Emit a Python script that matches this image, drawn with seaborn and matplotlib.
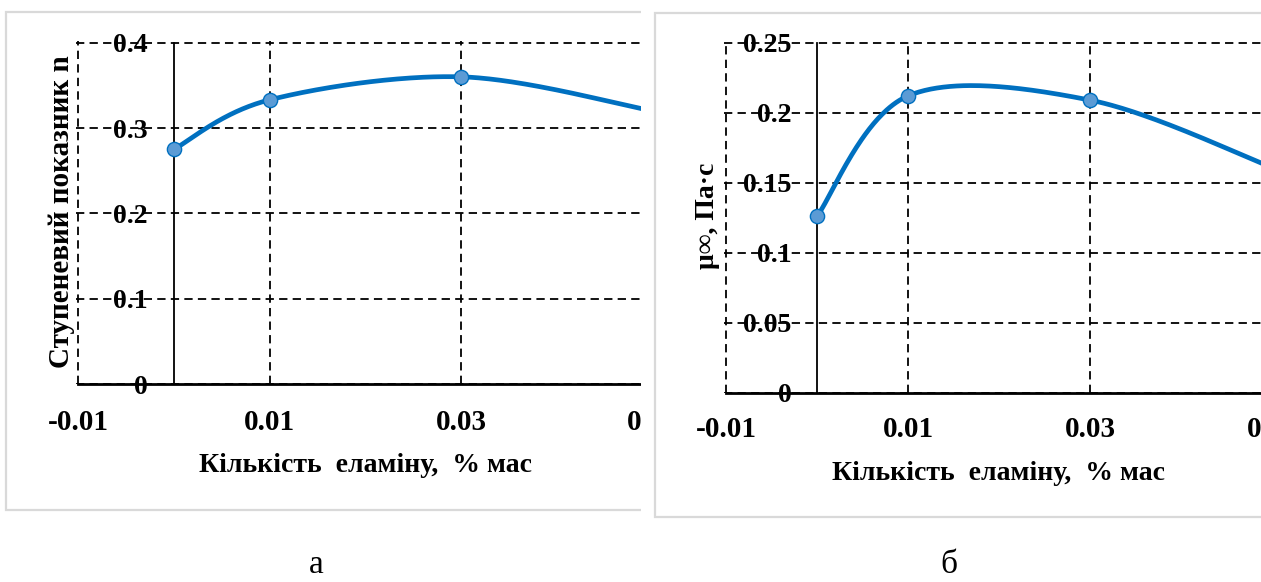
import numpy as np
import matplotlib
matplotlib.use('Agg')
import matplotlib.pyplot as plt
from matplotlib.patches import Rectangle
import seaborn as sns

# ---------------- data ----------------
elamine = [0.0, 0.01, 0.03, 0.05]
n_index = [0.275, 0.333, 0.360, 0.320]
mu_inf = [0.126, 0.212, 0.209, 0.161]

x_ticks = [-0.01, 0.01, 0.03, 0.05]
x_ticklabels = ['-0.01', '0.01', '0.03', '0.05']
n_ticks = [0, 0.1, 0.2, 0.3, 0.4]
n_ticklabels = ['0', '0.1', '0.2', '0.3', '0.4']
mu_ticks = [0, 0.05, 0.1, 0.15, 0.2, 0.25]
mu_ticklabels = ['0', '0.05', '0.1', '0.15', '0.2', '0.25']

x_title = 'Кількість  еламіну,  % мас'
n_title = 'Ступеневий показник n'
mu_title = 'μ∞, Па·с'
panel_letters = ['а', 'б']

# ---------------- style ----------------
sns.set_theme(style='white')
plt.rcParams['font.family'] = ['Liberation Serif', 'DejaVu Serif']
plt.rcParams['font.weight'] = 'bold'
for k in ['text.color', 'axes.labelcolor', 'xtick.color', 'ytick.color']:
    plt.rcParams[k] = 'black'

LINE_C = '#0070C0'
MARK_C = '#5B9BD5'
FRAME_C = '#d9d9d9'

W, H = 1261, 582
fig = plt.figure(figsize=(W / 100, H / 100), dpi=100)
fig.patch.set_facecolor('white')


def px_axes(left, top, w, h, z):
    return fig.add_axes([left / W, 1 - (top + h) / H, w / W, h / H], zorder=z)


def px_rect(x0, y0, x1, y1, **kw):
    r = Rectangle((x0 / W, 1 - y1 / H), (x1 - x0) / W, (y1 - y0) / H,
                  transform=fig.transFigure, **kw)
    fig.add_artist(r)
    return r


def excel_smooth(xs, ys, n=80):
    P = np.column_stack([xs, ys]).astype(float)
    pts = []
    for i in range(len(P) - 1):
        p0 = P[i - 1] if i > 0 else P[i]
        p1 = P[i]
        p2 = P[i + 1]
        p3 = P[i + 2] if i + 2 < len(P) else P[i + 1]
        b1 = p1 + (p2 - p0) / 6
        b2 = p2 - (p3 - p1) / 6
        t = np.linspace(0, 1, n)[:, None]
        seg = ((1 - t) ** 3) * p1 + 3 * ((1 - t) ** 2) * t * b1 \
            + 3 * (1 - t) * (t ** 2) * b2 + (t ** 3) * p2
        pts.append(seg if i == 0 else seg[1:])
    return np.vstack(pts)


def style_axes(ax, yvals, yticks, yticklabels, ylim_top, xpad, ypad):
    ax.set_facecolor('none')
    ax.set_xlim(-0.0102, 0.0502)
    ax.set_ylim(0, ylim_top)
    ax.set_xticks(x_ticks)
    ax.set_xticklabels(x_ticklabels)
    ax.set_yticks(yticks)
    ax.set_yticklabels(yticklabels)
    ax.grid(True, color='black', linestyle=(0, (4.6, 2.9)), linewidth=1.3)
    ax.set_axisbelow(True)
    for s in ['top', 'right']:
        ax.spines[s].set_visible(False)
    ax.spines['left'].set_position(('data', 0))
    ax.spines['left'].set_color('black')
    ax.spines['left'].set_linewidth(1.3)
    ax.spines['left'].set_bounds(0, yticks[-1])
    ax.spines['bottom'].set_color('black')
    ax.spines['bottom'].set_linewidth(2.0)
    ax.spines['bottom'].set_bounds(-0.01, 0.0502)
    ax.tick_params(axis='x', length=0, pad=xpad, labelsize=21, labelcolor='black')
    ax.tick_params(axis='y', length=0, pad=ypad, labelsize=20, labelcolor='black')
    for lab in ax.get_xticklabels() + ax.get_yticklabels():
        lab.set_fontweight('bold')
    curve = excel_smooth(elamine, yvals)
    sns.lineplot(x=curve[:, 0], y=curve[:, 1], ax=ax, color=LINE_C,
                 linewidth=3.4, sort=False, estimator=None, zorder=4)
    sns.scatterplot(x=elamine, y=yvals, ax=ax, s=105, color=MARK_C,
                    edgecolor=LINE_C, linewidth=1.0, zorder=5)
    ax.set_xlabel('')
    ax.set_ylabel('')


# ---------------- left panel ----------------
px_rect(6, 12, 700, 510, facecolor='white', edgecolor=FRAME_C, linewidth=1.6, zorder=0.2)
XL, YL = 9575.0, 853.25
axL = px_axes(78 - 0.0002 * XL, 384 - 0.402 * YL, 0.0604 * XL, 0.402 * YL, 1)
style_axes(axL, n_index, n_ticks, n_ticklabels, 0.402, 18, 18.5)
fig.text(365 / W, 1 - 472 / H, x_title, ha='center', va='baseline',
         fontsize=20, fontweight='bold', color='black', zorder=1.5)
fig.text(61.5 / W, 1 - 212 / H, n_title, ha='center', va='center', rotation=90,
         fontsize=21, fontweight='bold', color='black', zorder=1.5)

# clip of the left panel
px_rect(641, 0, W, 530, facecolor='white', edgecolor='none', zorder=2)

# ---------------- right panel ----------------
px_rect(655, 13, 1320, 517, facecolor='white', edgecolor=FRAME_C, linewidth=1.6, zorder=3)
XR, YR = 9100.0, 1400.0
axR = px_axes(726 - 0.0002 * XR, 392.7 - 0.2515 * YR, 0.0604 * XR, 0.2515 * YR, 4)
style_axes(axR, mu_inf, mu_ticks, mu_ticklabels, 0.2515, 17, 18.5)
fig.text(998 / W, 1 - 480 / H, x_title, ha='center', va='baseline',
         fontsize=20, fontweight='bold', color='black', zorder=5)
fig.text(707 / W, 1 - 216 / H, mu_title, ha='center', va='center', rotation=90,
         fontsize=20, fontweight='bold', color='black', zorder=5)

# ---------------- panel letters ----------------
fig.text(316 / W, 2 / H, panel_letters[0], ha='center', va='bottom',
         fontsize=24, fontweight='normal', color='black', zorder=6)
fig.text(949 / W, 2 / H, panel_letters[1], ha='center', va='bottom',
         fontsize=24, fontweight='normal', color='black', zorder=6)

fig.savefig('out.png', dpi=100, facecolor='white')
